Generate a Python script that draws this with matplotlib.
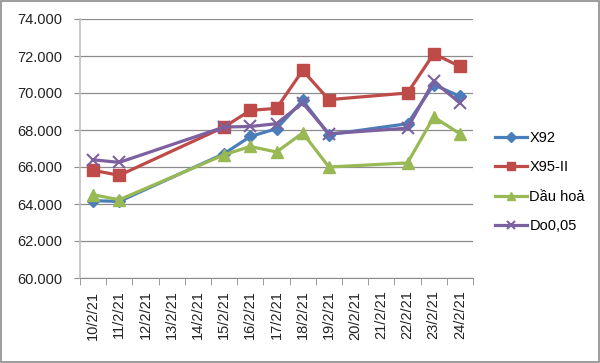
import numpy as np
import matplotlib.pyplot as plt
from matplotlib.patches import Rectangle

plt.rcParams['font.family'] = ['Liberation Sans', 'DejaVu Sans']

dates = ['10/2/21', '11/2/21', '12/2/21', '13/2/21', '14/2/21', '15/2/21',
         '16/2/21', '17/2/21', '18/2/21', '19/2/21', '20/2/21', '21/2/21',
         '22/2/21', '23/2/21', '24/2/21']

# None = no price announced that day
x92 = [64.18, 64.14, None, None, None, 66.72, 67.65, 68.07, 69.60, 67.75,
       None, None, 68.34, 70.45, 69.82]
x95 = [65.82, 65.55, None, None, None, 68.16, 69.06, 69.17, 71.22, 69.64,
       None, None, 70.00, 72.12, 71.44]
dau_hoa = [64.50, 64.23, None, None, None, 66.66, 67.11, 66.81, 67.84, 66.00,
           None, None, 66.22, 68.70, 67.80]
do005 = [66.39, 66.25, None, None, None, 68.16, 68.19, 68.34, 69.46, 67.80,
         None, None, 68.10, 70.63, 69.46]

series = [
    ('X92', x92, '#4A7EBB', 'D', 6.5),
    ('X95-II', x95, '#BE4B48', 's', 8),
    ('Dầu hoả', dau_hoa, '#98B954', '^', 8.5),
    ('Do0,05', do005, '#7D60A0', 'x', 8),
]

fig = plt.figure(figsize=(6, 3.63), dpi=100)
ax = fig.add_axes([80 / 600, 1 - 278 / 363, 393 / 600, 259 / 363])

for name, vals, color, mk, ms in series:
    idx = [i for i, v in enumerate(vals) if v is not None]
    ys = [vals[i] for i in idx]
    ax.plot(idx, ys, color=color, lw=2.3, marker=mk, markersize=ms,
            markeredgewidth=1.5 if mk == 'x' else 1, label=name)

ax.set_xlim(-0.5, len(dates) - 0.5)
ax.set_ylim(60, 74)
yt = np.arange(60, 74.1, 2)
ax.set_yticks(yt)
ax.set_yticklabels(['%.3f' % v for v in yt], fontsize=10.5, color='#222222')
ax.yaxis.grid(True, color='#8c8c8c', lw=0.9)
ax.set_axisbelow(True)
ax.tick_params(axis='y', length=4.5, color='#8c8c8c', pad=8)

ax.set_xticks(np.arange(len(dates)))
ax.set_xticklabels(dates, rotation=90, fontsize=10.5, color='#222222')
ax.set_xticks(np.arange(-0.5, len(dates), 1), minor=True)
ax.tick_params(axis='x', which='major', length=0, pad=9)
ax.tick_params(axis='x', which='minor', length=5, color='#8c8c8c')

for s in ['top', 'right']:
    ax.spines[s].set_visible(False)
ax.spines['left'].set_color('#c0c0c0')
ax.spines['left'].set_linewidth(1.2)
ax.spines['bottom'].set_color('#8c8c8c')

fig.legend(loc='center left', bbox_to_anchor=(482 / 600, 1 - 182 / 363),
           frameon=False, fontsize=10.5, labelspacing=1.05, handlelength=2.2,
           handletextpad=0.15, markerscale=0.75)

fig.patches.append(Rectangle((0.002, 0.003), 0.996, 0.994, transform=fig.transFigure,
                             fill=False, edgecolor='#8c8c8c', lw=1.2))

fig.savefig('out.png', dpi=100)
